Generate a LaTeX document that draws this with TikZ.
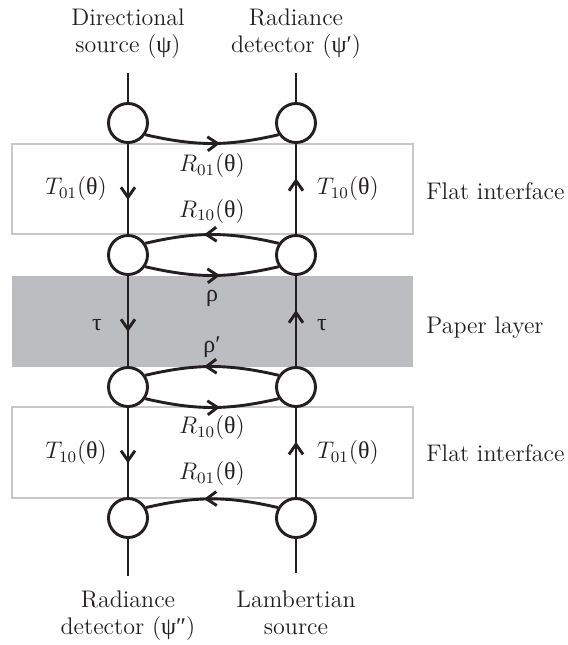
\documentclass[tikz,border=0pt]{standalone}
\usepackage{fontspec}
\newfontfamily\grk{Liberation Serif}
\usetikzlibrary{arrows.meta,decorations.markings}
\definecolor{pprInk}{HTML}{231F20}
\definecolor{pprFrame}{HTML}{C8C8C8}
\definecolor{pprLayer}{HTML}{BCBDC0}
\newcommand{\gk}[1]{{\grk #1}}
\tikzset{
  ppr node/.style={circle, draw=pprInk, fill=white, line width=1.45pt, minimum size=19.5pt, inner sep=0pt},
  ppr line/.style={draw=pprInk, line width=1.45pt},
  ppr flow/.style={ppr line, postaction={decorate},
    decoration={markings, mark=at position #1 with {\arrow{Straight Barb[length=5pt,width=7pt]}}}},
  ppr flow/.default=0.56,
  ppr frame/.style={draw=pprFrame, line width=1pt},
  ppr label/.style={font=\fontsize{12}{13.5}\selectfont, text=pprInk, align=center},
}
\begin{document}
\begin{tikzpicture}[x=0.5pt,y=0.5pt]
  \useasboundingbox (0,0) rectangle (568,-645);
  % interface and layer bands (drawn first so the network stays on top)
  \draw[ppr frame] (12,-144) rectangle (413,-234);
  \fill[pprLayer] (12,-276) rectangle (413,-367);
  \draw[ppr frame] (12,-407) rectangle (413,-498);
  \node[ppr label, inner sep=0pt, anchor=base west] (lab1) at (426,-199) {Flat interface};
  \node[ppr label, inner sep=0pt, anchor=base west] (lab2) at (426,-333) {Paper layer};
  \node[ppr label, inner sep=0pt, anchor=base west] (lab3) at (426,-461) {Flat interface};
  % junctions, left and right column
  \foreach \i/\y in {1/-123,2/-255,3/-387,4/-518} {
    \node[ppr node] (jl\i) at (128,\y) {};
    \node[ppr node] (jr\i) at (296,\y) {};
  }
  % sources and detectors
  \coordinate (inl) at (128,-73);
  \coordinate (inr) at (296,-73);
  \coordinate (outl) at (128,-576);
  \coordinate (outr) at (296,-573);
  \node[ppr label, inner sep=0pt, anchor=north] (src) at (128,-8) {Directional\\source (\gk{ψ})};
  \node[ppr label, inner sep=0pt, anchor=north] (det1) at (296,-8) {Radiance\\detector (\gk{ψ′})};
  \node[ppr label, inner sep=0pt, anchor=north] (det2) at (128,-590) {Radiance\\detector (\gk{ψ″})};
  \node[ppr label, inner sep=0pt, anchor=north] (lsrc) at (296,-590) {Lambertian\\source};
  \draw[ppr line] (inl) -- (jl1);
  \draw[ppr line] (inr) -- (jr1);
  \draw[ppr line] (jl4) -- (outl);
  \draw[ppr line] (jr4) -- (outr);
  % transmission down the left, up the right
  \draw[ppr flow=0.62] (jl1) -- node[ppr label, left=6.5pt] {$T_{01}$(\gk{θ})} (jl2);
  \draw[ppr flow=0.62] (jr2) -- node[ppr label, right=6.5pt] {$T_{10}$(\gk{θ})} (jr1);
  \draw[ppr flow=0.62] (jl2) -- node[ppr label, left=9pt, yshift=-2pt] {\gk{τ}} (jl3);
  \draw[ppr flow=0.62] (jr3) -- node[ppr label, right=6.5pt, yshift=-2pt] {\gk{τ}} (jr2);
  \draw[ppr flow=0.62] (jl3) -- node[ppr label, left=6.5pt] {$T_{10}$(\gk{θ})} (jl4);
  \draw[ppr flow=0.62] (jr4) -- node[ppr label, right=6.5pt] {$T_{01}$(\gk{θ})} (jr3);
  % reflections between the columns
  \draw[ppr flow] (jl1.-34) to[bend right=13] node[ppr label, below=1pt] {$R_{01}$(\gk{θ})} (jr1.-146);
  \draw[ppr flow] (jr2.146) to[bend right=13] node[ppr label, above=1.5pt] {$R_{10}$(\gk{θ})} (jl2.34);
  \draw[ppr flow] (jl2.-34) to[bend right=13] node[ppr label, below=3.5pt] {\gk{ρ}} (jr2.-146);
  \draw[ppr flow] (jr3.146) to[bend right=13] node[ppr label, above=0.5pt] {\gk{ρ′}} (jl3.34);
  \draw[ppr flow] (jl3.-34) to[bend right=13] node[ppr label, below=0pt] {$R_{10}$(\gk{θ})} (jr3.-146);
  \draw[ppr flow] (jr4.150) to[bend right=13] node[ppr label, above=2.5pt] {$R_{01}$(\gk{θ})} (jl4.30);
\end{tikzpicture}
\end{document}
